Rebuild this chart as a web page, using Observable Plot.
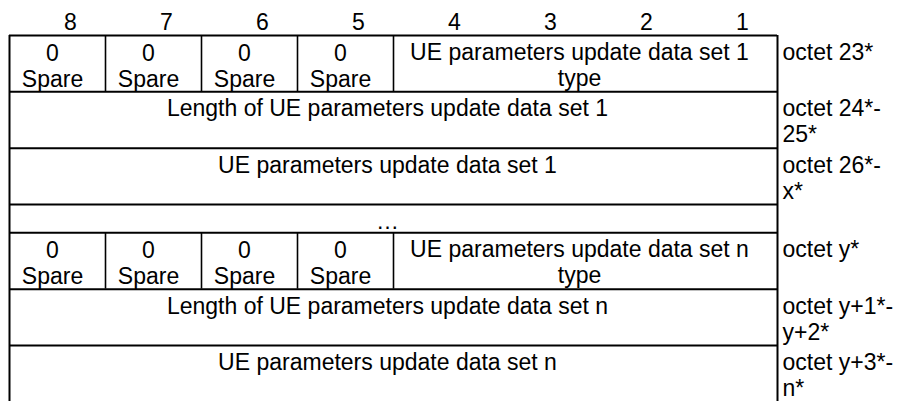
<!DOCTYPE html>
<html>
<head>
<meta charset="utf-8">
<script src="https://cdn.jsdelivr.net/npm/d3@7"></script>
<script src="https://cdn.jsdelivr.net/npm/@observablehq/plot@0.6"></script>
<style>
  html, body { margin: 0; padding: 0; background: #fff; }
  #chart svg { display: block; }
</style>
</head>
<body>
<div id="chart"></div>
<script>
// ---- data ----
const bitLabels = ["8", "7", "6", "5", "4", "3", "2", "1"];
const spareBits = ["8", "7", "6", "5"];
const spareValue = "0";
const spareName = "Spare";
const rowKinds = ["type", "length", "value", "gap", "type", "length", "value"];
const fieldTexts = [
  "UE parameters update data set 1\ntype",
  "Length of UE parameters update data set 1",
  "UE parameters update data set 1",
  "…",
  "UE parameters update data set n\ntype",
  "Length of UE parameters update data set n",
  "UE parameters update data set n"
];
const octetLabels = [
  "octet 23*",
  "octet 24*-\n25*",
  "octet 26*-\nx*",
  "",
  "octet y*",
  "octet y+1*-\ny+2*",
  "octet y+3*-\nn*"
];

// ---- layout derived from structure ----
const colOf = b => bitLabels.indexOf(b); // left edge of bit column
let acc = 0;
const rows = rowKinds.map((kind, i) => {
  const h = kind === "gap" ? 1 : 2;
  const r = {i, kind, top: acc, bottom: acc + h, text: fieldTexts[i], octet: octetLabels[i]};
  acc += h;
  return r;
});
const total = acc; // last row is cropped at the bottom

const spareCells = rows.filter(r => r.kind === "type")
  .flatMap(r => spareBits.map(b => ({row: r, bit: b})));
const fieldCells = rows.map(r => ({
  row: r,
  x0: r.kind === "type" ? spareBits.length : 0,
  x1: bitLabels.length
}));
const dividers = rows.filter(r => r.kind === "type")
  .flatMap(r => d3.range(1, spareBits.length + 1).map(c => ({row: r, c})));

const font = "'Liberation Sans', Arial, Helvetica, sans-serif";
const fs = 23;
const lh = 26 / fs;

const chart = Plot.plot({
  width: 900,
  height: 401,
  margin: 0,
  style: {fontFamily: font, fontSize: fs + "px", background: "#fff", color: "#000"},
  x: {domain: [0, bitLabels.length], range: [9, 777], axis: null},
  y: {domain: [0, 11], range: [35, 345], axis: null},
  marks: [
    // horizontal lines: top border and each row top
    Plot.ruleY(rows, {y: d => d.top, x1: () => 0, x2: () => bitLabels.length, stroke: "#000", strokeWidth: 2}),
    // outer vertical borders
    Plot.ruleX([0, bitLabels.length], {x: d => d, y1: () => 0, y2: () => total, stroke: "#000", strokeWidth: 2}),
    // spare column dividers
    Plot.ruleX(dividers, {x: d => d.c, y1: d => d.row.top, y2: d => d.row.bottom, stroke: "#000", strokeWidth: 1.6}),
    // bit numbers header
    Plot.text(bitLabels, {x: (d, i) => i + 0.5, y: () => 0, text: d => d, lineAnchor: "top",
      dy: -22, dx: 13, fontSize: fs, fill: "#000"}),
    // spare cells
    Plot.text(spareCells, {x: d => colOf(d.bit) + 0.5, y: d => d.row.top, text: d => spareValue + "\n" + spareName,
      lineAnchor: "top", lineHeight: lh, dy: 7, dx: -5, fontSize: fs, fill: "#000"}),
    // field texts
    Plot.text(fieldCells, {x: d => (d.x0 + d.x1) / 2, y: d => d.row.top, text: d => d.row.text,
      lineAnchor: "top", lineHeight: lh, dy: 6, dx: -6, fontSize: fs, fill: "#000"}),
    // octet labels
    Plot.text(rows, {x: () => bitLabels.length, y: d => d.top, text: d => d.octet, textAnchor: "start",
      lineAnchor: "top", lineHeight: lh, dy: 6, dx: 5, fontSize: fs, fill: "#000"})
  ]
});
document.getElementById("chart").appendChild(chart);
</script>
</body>
</html>
